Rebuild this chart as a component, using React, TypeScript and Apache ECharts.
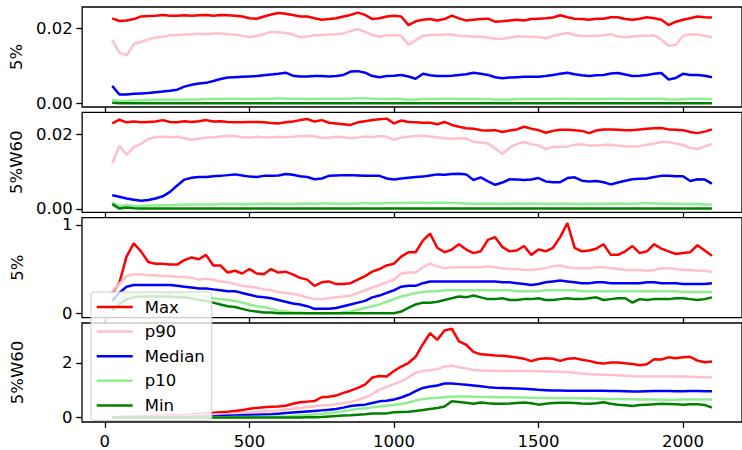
import React, { useEffect, useRef } from "react";
import * as echarts from "echarts";

const FONT = "DejaVu Sans";

const X = [25,50,75,100,125,150,175,200,225,250,275,300,325,350,375,400,425,450,475,500,525,550,575,600,625,650,675,700,725,750,775,800,825,850,875,900,925,950,975,1000,1025,1050,1075,1100,1125,1150,1175,1200,1225,1250,1275,1300,1325,1350,1375,1400,1425,1450,1475,1500,1525,1550,1575,1600,1625,1650,1675,1700,1725,1750,1775,1800,1825,1850,1875,1900,1925,1950,1975,2000,2025,2050,2075,2100];

const NAMES = ["Max", "p90", "Median", "p10", "Min"];
const COLORS = ["#ff0000", "#ffc0cb", "#0000ff", "#90ee90", "#008000"];
const Y_NAMES = ["5%", "5%W60", "5%", "5%W60"];
const X_TICKS = [0, 500, 1000, 1500, 2000];
const Y_TICKS = [[0, 0.02], [0, 0.02], [0, 1], [0, 2]];

// Panel 1: 5%
const s1Max = [0.0226,0.0219,0.0220,0.0224,0.0231,0.0232,0.0233,0.0235,0.0233,0.0233,
0.0234,0.0233,0.0234,0.0235,0.0233,0.0235,0.0234,0.0233,0.0231,0.0226,
0.0225,0.0231,0.0236,0.0240,0.0238,0.0235,0.0231,0.0231,0.0226,0.0222,
0.0224,0.0226,0.0231,0.0235,0.0241,0.0235,0.0224,0.0226,0.0231,0.0233,
0.0231,0.0208,0.0218,0.0222,0.0224,0.0220,0.0224,0.0233,0.0226,0.0220,
0.0222,0.0224,0.0225,0.0217,0.0218,0.0220,0.0222,0.0220,0.0224,0.0225,
0.0226,0.0228,0.0234,0.0229,0.0225,0.0224,0.0222,0.0225,0.0225,0.0229,
0.0229,0.0224,0.0222,0.0225,0.0229,0.0226,0.0222,0.0208,0.0217,0.0222,
0.0226,0.0231,0.0229,0.0228];
const s1P90 = [0.0169,0.0135,0.0128,0.0158,0.0164,0.0170,0.0175,0.0177,0.0181,0.0182,
0.0183,0.0184,0.0185,0.0184,0.0186,0.0186,0.0184,0.0183,0.0180,0.0176,
0.0180,0.0184,0.0190,0.0189,0.0187,0.0183,0.0176,0.0178,0.0181,0.0182,
0.0183,0.0184,0.0186,0.0192,0.0197,0.0190,0.0182,0.0177,0.0181,0.0182,
0.0180,0.0156,0.0168,0.0180,0.0182,0.0182,0.0183,0.0183,0.0180,0.0179,
0.0178,0.0177,0.0175,0.0172,0.0171,0.0175,0.0178,0.0178,0.0177,0.0176,
0.0173,0.0179,0.0184,0.0187,0.0182,0.0179,0.0179,0.0179,0.0181,0.0184,
0.0178,0.0176,0.0178,0.0179,0.0180,0.0181,0.0170,0.0153,0.0156,0.0180,
0.0184,0.0183,0.0180,0.0176];
const s1Median = [0.0047,0.0024,0.0024,0.0026,0.0027,0.0028,0.0030,0.0032,0.0034,0.0037,
0.0045,0.0050,0.0053,0.0055,0.0060,0.0065,0.0069,0.0070,0.0071,0.0072,
0.0073,0.0075,0.0077,0.0079,0.0082,0.0074,0.0072,0.0072,0.0073,0.0073,
0.0072,0.0073,0.0076,0.0085,0.0086,0.0082,0.0073,0.0070,0.0073,0.0074,
0.0076,0.0072,0.0066,0.0079,0.0075,0.0073,0.0073,0.0074,0.0076,0.0078,
0.0082,0.0079,0.0076,0.0070,0.0067,0.0069,0.0070,0.0071,0.0071,0.0071,
0.0073,0.0076,0.0079,0.0082,0.0078,0.0075,0.0073,0.0075,0.0076,0.0080,
0.0081,0.0077,0.0073,0.0074,0.0076,0.0079,0.0081,0.0064,0.0068,0.0079,
0.0076,0.0076,0.0074,0.0070];
const s1P10 = [0.0010,0.0007,0.0007,0.0008,0.0009,0.0009,0.0010,0.0010,0.0010,0.0010,
0.0011,0.0011,0.0011,0.0012,0.0012,0.0012,0.0013,0.0013,0.0012,0.0012,
0.0012,0.0013,0.0013,0.0014,0.0013,0.0013,0.0013,0.0012,0.0012,0.0013,
0.0013,0.0013,0.0013,0.0013,0.0014,0.0014,0.0013,0.0012,0.0012,0.0013,
0.0012,0.0010,0.0011,0.0012,0.0012,0.0012,0.0013,0.0013,0.0012,0.0012,
0.0012,0.0012,0.0012,0.0011,0.0011,0.0011,0.0012,0.0012,0.0012,0.0012,
0.0012,0.0012,0.0013,0.0013,0.0012,0.0012,0.0012,0.0012,0.0012,0.0013,
0.0013,0.0012,0.0012,0.0012,0.0013,0.0013,0.0013,0.0011,0.0011,0.0012,
0.0013,0.0013,0.0012,0.0012];
const s1Min = [0.0002,0.0001,0.0001,0.0001,0.0001,0.0001,0.0001,0.0001,0.0001,0.0001,
0.0001,0.0001,0.0001,0.0001,0.0001,0.0001,0.0001,0.0001,0.0001,0.0001,
0.0001,0.0001,0.0001,0.0001,0.0001,0.0001,0.0001,0.0001,0.0001,0.0001,
0.0001,0.0001,0.0001,0.0001,0.0001,0.0001,0.0001,0.0001,0.0001,0.0001,
0.0001,0.0001,0.0001,0.0001,0.0001,0.0001,0.0001,0.0001,0.0001,0.0001,
0.0001,0.0001,0.0001,0.0001,0.0001,0.0001,0.0001,0.0001,0.0001,0.0001,
0.0001,0.0001,0.0001,0.0001,0.0001,0.0001,0.0001,0.0001,0.0001,0.0001,
0.0001,0.0001,0.0001,0.0001,0.0001,0.0001,0.0001,0.0001,0.0001,0.0001,
0.0001,0.0001,0.0001,0.0001];

// Panel 2: 5%W60
const s2Max = [0.0230,0.0240,0.0233,0.0235,0.0233,0.0234,0.0235,0.0239,0.0234,0.0233,
0.0236,0.0234,0.0236,0.0239,0.0235,0.0236,0.0234,0.0233,0.0233,0.0234,
0.0234,0.0233,0.0231,0.0230,0.0233,0.0235,0.0239,0.0242,0.0235,0.0239,
0.0232,0.0230,0.0228,0.0226,0.0233,0.0236,0.0239,0.0241,0.0243,0.0230,
0.0238,0.0234,0.0233,0.0232,0.0232,0.0228,0.0234,0.0226,0.0221,0.0217,
0.0216,0.0212,0.0211,0.0212,0.0207,0.0211,0.0214,0.0221,0.0216,0.0212,
0.0205,0.0210,0.0213,0.0213,0.0212,0.0210,0.0204,0.0211,0.0214,0.0214,
0.0213,0.0212,0.0212,0.0214,0.0216,0.0217,0.0218,0.0214,0.0213,0.0212,
0.0207,0.0204,0.0208,0.0214];
const s2P90 = [0.0122,0.0170,0.0146,0.0167,0.0175,0.0188,0.0193,0.0194,0.0193,0.0194,
0.0190,0.0186,0.0189,0.0192,0.0193,0.0195,0.0197,0.0196,0.0193,0.0192,
0.0194,0.0193,0.0192,0.0194,0.0193,0.0194,0.0196,0.0197,0.0195,0.0191,
0.0192,0.0194,0.0193,0.0190,0.0192,0.0195,0.0193,0.0196,0.0194,0.0186,
0.0192,0.0194,0.0196,0.0197,0.0195,0.0193,0.0190,0.0189,0.0191,0.0189,
0.0181,0.0179,0.0176,0.0163,0.0148,0.0165,0.0175,0.0180,0.0174,0.0171,
0.0161,0.0167,0.0167,0.0167,0.0173,0.0174,0.0171,0.0171,0.0172,0.0173,
0.0170,0.0169,0.0168,0.0169,0.0173,0.0176,0.0180,0.0180,0.0176,0.0172,
0.0164,0.0161,0.0168,0.0175];
const s2Median = [0.0037,0.0033,0.0028,0.0025,0.0022,0.0024,0.0028,0.0034,0.0046,0.0063,
0.0079,0.0084,0.0086,0.0086,0.0088,0.0089,0.0091,0.0093,0.0090,0.0087,
0.0086,0.0089,0.0089,0.0090,0.0094,0.0092,0.0088,0.0086,0.0080,0.0082,
0.0089,0.0090,0.0091,0.0091,0.0090,0.0089,0.0089,0.0089,0.0082,0.0079,
0.0082,0.0084,0.0086,0.0087,0.0090,0.0093,0.0092,0.0094,0.0095,0.0093,
0.0078,0.0085,0.0074,0.0065,0.0071,0.0080,0.0079,0.0078,0.0079,0.0083,
0.0074,0.0072,0.0072,0.0083,0.0085,0.0076,0.0074,0.0075,0.0072,0.0066,
0.0071,0.0076,0.0080,0.0081,0.0082,0.0086,0.0089,0.0089,0.0088,0.0088,
0.0075,0.0080,0.0079,0.0068];
const s2P10 = [0.0017,0.0008,0.0011,0.0008,0.0008,0.0009,0.0009,0.0010,0.0010,0.0011,
0.0011,0.0012,0.0012,0.0012,0.0012,0.0013,0.0013,0.0013,0.0012,0.0013,
0.0013,0.0014,0.0014,0.0013,0.0013,0.0013,0.0014,0.0015,0.0014,0.0015,
0.0015,0.0014,0.0014,0.0014,0.0015,0.0016,0.0015,0.0015,0.0016,0.0016,
0.0016,0.0017,0.0017,0.0017,0.0016,0.0017,0.0017,0.0016,0.0016,0.0015,
0.0014,0.0014,0.0015,0.0014,0.0013,0.0014,0.0015,0.0014,0.0015,0.0014,
0.0013,0.0014,0.0014,0.0014,0.0013,0.0013,0.0014,0.0013,0.0014,0.0014,
0.0015,0.0014,0.0014,0.0015,0.0016,0.0015,0.0015,0.0014,0.0014,0.0013,
0.0013,0.0013,0.0012,0.0012];
const s2Min = [0.0013,0.0001,0.0004,0.0002,0.0001,0.0001,0.0001,0.0001,0.0001,0.0001,
0.0001,0.0001,0.0001,0.0001,0.0001,0.0001,0.0001,0.0001,0.0001,0.0001,
0.0001,0.0001,0.0001,0.0001,0.0001,0.0001,0.0001,0.0001,0.0001,0.0001,
0.0001,0.0001,0.0001,0.0001,0.0001,0.0001,0.0001,0.0001,0.0001,0.0001,
0.0001,0.0001,0.0001,0.0001,0.0001,0.0001,0.0001,0.0001,0.0001,0.0001,
0.0001,0.0001,0.0001,0.0001,0.0001,0.0001,0.0001,0.0001,0.0001,0.0001,
0.0001,0.0001,0.0001,0.0001,0.0001,0.0001,0.0001,0.0001,0.0001,0.0001,
0.0001,0.0001,0.0001,0.0001,0.0001,0.0001,0.0001,0.0001,0.0001,0.0001,
0.0001,0.0001,0.0001,0.0001];

// Panel 3: 5%
const s3Max = [0.23,0.34,0.64,0.79,0.70,0.58,0.56,0.56,0.55,0.55,
0.60,0.63,0.61,0.66,0.54,0.54,0.46,0.48,0.45,0.50,
0.45,0.44,0.50,0.46,0.47,0.44,0.40,0.38,0.31,0.35,
0.36,0.33,0.33,0.34,0.38,0.42,0.47,0.50,0.54,0.56,
0.64,0.69,0.69,0.82,0.90,0.74,0.69,0.72,0.78,0.72,
0.68,0.70,0.83,0.86,0.75,0.70,0.71,0.76,0.66,0.72,
0.70,0.74,0.86,1.02,0.74,0.70,0.71,0.73,0.78,0.66,
0.66,0.70,0.76,0.68,0.70,0.78,0.73,0.70,0.67,0.68,
0.69,0.77,0.71,0.65];
const s3P90 = [0.25,0.33,0.42,0.44,0.44,0.43,0.43,0.42,0.42,0.41,
0.41,0.40,0.38,0.39,0.38,0.36,0.35,0.33,0.31,0.30,
0.29,0.27,0.26,0.24,0.23,0.22,0.20,0.18,0.16,0.16,
0.17,0.18,0.19,0.20,0.23,0.26,0.29,0.32,0.35,0.38,
0.45,0.46,0.46,0.52,0.56,0.53,0.51,0.52,0.52,0.52,
0.52,0.52,0.53,0.52,0.51,0.50,0.50,0.49,0.49,0.50,
0.51,0.53,0.54,0.52,0.51,0.51,0.51,0.52,0.52,0.51,
0.50,0.49,0.49,0.49,0.48,0.49,0.51,0.51,0.50,0.49,
0.49,0.48,0.48,0.47];
const s3Median = [0.14,0.23,0.30,0.32,0.32,0.32,0.32,0.32,0.32,0.31,
0.30,0.29,0.28,0.28,0.27,0.26,0.25,0.25,0.23,0.21,
0.19,0.18,0.17,0.15,0.13,0.11,0.10,0.08,0.05,0.05,
0.05,0.06,0.08,0.10,0.12,0.14,0.18,0.20,0.23,0.26,
0.30,0.31,0.31,0.34,0.36,0.36,0.36,0.36,0.36,0.36,
0.36,0.36,0.36,0.36,0.35,0.35,0.34,0.33,0.32,0.33,
0.35,0.36,0.37,0.36,0.35,0.34,0.34,0.35,0.35,0.34,
0.34,0.34,0.34,0.34,0.35,0.35,0.34,0.34,0.34,0.33,
0.33,0.33,0.33,0.34];
const s3P10 = [0.04,0.15,0.21,0.22,0.22,0.22,0.22,0.22,0.22,0.22,
0.21,0.21,0.20,0.19,0.17,0.16,0.15,0.14,0.12,0.10,
0.08,0.07,0.05,0.03,0.02,0.01,0.01,0.00,0.00,0.00,
0.00,0.00,0.01,0.02,0.04,0.06,0.08,0.10,0.13,0.16,
0.19,0.21,0.23,0.24,0.25,0.25,0.26,0.26,0.26,0.26,
0.26,0.26,0.26,0.26,0.26,0.26,0.25,0.25,0.25,0.25,
0.26,0.26,0.26,0.26,0.26,0.25,0.25,0.25,0.25,0.25,
0.25,0.25,0.25,0.25,0.25,0.25,0.25,0.25,0.25,0.24,
0.24,0.24,0.24,0.24];
const s3Min = [0.03,0.10,0.16,0.18,0.19,0.19,0.19,0.19,0.19,0.18,
0.18,0.17,0.15,0.14,0.12,0.10,0.08,0.07,0.05,0.03,
0.02,0.01,0.01,0.00,0.00,0.00,0.00,0.00,0.00,0.00,
0.00,0.00,0.00,0.00,0.00,0.00,0.00,0.00,0.00,0.00,
0.02,0.06,0.10,0.12,0.12,0.13,0.15,0.17,0.19,0.18,
0.20,0.18,0.16,0.16,0.17,0.15,0.15,0.16,0.16,0.17,
0.15,0.15,0.16,0.17,0.16,0.16,0.17,0.18,0.15,0.16,
0.17,0.17,0.12,0.16,0.15,0.16,0.16,0.16,0.17,0.17,
0.16,0.15,0.16,0.18];

// Panel 4: 5%W60
const s4Max = [0.01,0.02,0.03,0.03,0.04,0.05,0.06,0.06,0.07,0.08,
0.09,0.11,0.13,0.15,0.17,0.19,0.21,0.24,0.27,0.32,
0.35,0.37,0.39,0.40,0.43,0.50,0.56,0.58,0.60,0.74,
0.76,0.80,0.90,0.98,1.08,1.20,1.46,1.52,1.50,1.70,
1.86,1.99,2.22,2.68,3.08,2.84,3.18,3.25,2.78,2.66,
2.40,2.31,2.29,2.27,2.26,2.23,2.19,2.15,2.06,2.14,
2.17,2.15,2.07,2.15,2.17,2.11,2.07,2.00,1.97,2.01,
2.01,1.98,1.96,1.91,1.95,2.13,2.12,2.20,2.17,2.20,
2.22,2.08,2.02,2.05];
const s4P90 = [0.00,0.01,0.01,0.02,0.02,0.03,0.03,0.04,0.04,0.05,
0.06,0.07,0.08,0.09,0.10,0.11,0.12,0.14,0.16,0.18,
0.20,0.22,0.24,0.26,0.29,0.32,0.35,0.38,0.41,0.44,
0.46,0.49,0.53,0.57,0.64,0.73,0.86,1.02,1.12,1.22,
1.33,1.46,1.63,1.70,1.73,1.77,1.86,1.90,1.84,1.79,
1.74,1.72,1.71,1.71,1.70,1.70,1.70,1.70,1.70,1.69,
1.68,1.68,1.67,1.66,1.64,1.61,1.58,1.57,1.56,1.55,
1.54,1.53,1.51,1.50,1.50,1.50,1.50,1.50,1.50,1.50,
1.49,1.48,1.47,1.46];
const s4Median = [0.00,0.00,0.00,0.01,0.01,0.01,0.01,0.01,0.02,0.02,
0.02,0.03,0.03,0.04,0.04,0.05,0.06,0.07,0.08,0.09,
0.10,0.11,0.12,0.14,0.16,0.18,0.20,0.22,0.24,0.26,
0.28,0.31,0.36,0.42,0.45,0.47,0.53,0.59,0.61,0.66,
0.73,0.83,0.96,1.08,1.13,1.17,1.24,1.24,1.22,1.20,
1.17,1.14,1.11,1.09,1.08,1.07,1.06,1.05,1.03,1.01,
1.00,0.99,0.99,0.98,0.98,0.98,0.98,0.98,0.98,0.97,
0.97,0.96,0.95,0.95,0.96,0.97,0.97,0.97,0.96,0.96,
0.97,0.97,0.96,0.96];
const s4P10 = [0.00,0.00,0.00,0.00,0.00,0.00,0.00,0.00,0.00,0.00,
0.00,0.00,0.01,0.01,0.01,0.01,0.01,0.02,0.02,0.02,
0.03,0.03,0.03,0.04,0.04,0.05,0.07,0.09,0.11,0.13,
0.16,0.19,0.23,0.27,0.31,0.34,0.37,0.40,0.43,0.46,
0.49,0.55,0.62,0.67,0.70,0.72,0.74,0.76,0.77,0.77,
0.76,0.75,0.75,0.74,0.74,0.74,0.73,0.73,0.72,0.71,
0.71,0.71,0.70,0.70,0.70,0.70,0.69,0.69,0.68,0.68,
0.68,0.67,0.67,0.66,0.66,0.66,0.65,0.65,0.65,0.66,
0.66,0.66,0.66,0.66];
const s4Min = [0.00,0.00,0.00,0.00,0.00,0.00,0.00,0.00,0.00,0.00,
0.00,0.00,0.00,0.00,0.00,0.00,0.00,0.00,0.00,0.00,
0.00,0.00,0.00,0.00,0.00,0.00,0.00,0.01,0.01,0.02,
0.04,0.05,0.07,0.08,0.10,0.12,0.15,0.15,0.15,0.19,
0.20,0.21,0.24,0.27,0.31,0.35,0.40,0.59,0.57,0.54,
0.50,0.55,0.52,0.50,0.50,0.51,0.53,0.55,0.52,0.47,
0.50,0.53,0.54,0.54,0.53,0.51,0.50,0.52,0.56,0.50,
0.47,0.45,0.42,0.46,0.47,0.48,0.50,0.49,0.48,0.47,
0.48,0.48,0.46,0.36];

const PANELS = [
  [s1Max, s1P90, s1Median, s1P10, s1Min],
  [s2Max, s2P90, s2Median, s2P10, s2Min],
  [s3Max, s3P90, s3Median, s3P10, s3Min],
  [s4Max, s4P90, s4Median, s4P10, s4Min],
];

const GRID_TOPS = [7, 112.3, 217.7, 323];
const Y_LIMITS = [[-0.0009, 0.0256], [-0.0009, 0.026], [-0.05, 1.08], [-0.165, 3.455]];

function buildOption() {
  const tickLine = { color: "#000", width: 1.3 };
  const labelStyle = { fontFamily: FONT, fontSize: 16.5, color: "#000" };
  const grid = GRID_TOPS.map((top) => ({
    left: 82, top, width: 663, height: 100,
    show: true, borderColor: "#000", borderWidth: 1.3, backgroundColor: "transparent",
  }));
  const xAxis = GRID_TOPS.map((_, i) => ({
    type: "value", gridIndex: i, min: -79, max: 2204, position: "bottom",
    axisLine: { show: false, onZero: false },
    splitLine: { show: false },
    axisTick: { show: true, length: 5.8, lineStyle: tickLine, customValues: X_TICKS },
    axisLabel: {
      show: i === 3, customValues: X_TICKS, margin: 11, ...labelStyle,
      formatter: (v: number) => String(v),
    },
  }));
  const yAxis = GRID_TOPS.map((_, i) => ({
    type: "value", gridIndex: i, min: Y_LIMITS[i][0], max: Y_LIMITS[i][1], position: "left",
    name: Y_NAMES[i], nameLocation: "middle", nameRotate: 90, nameGap: 56.5,
    nameTextStyle: { ...labelStyle },
    axisLine: { show: false, onZero: false },
    splitLine: { show: false },
    axisTick: { show: true, length: 5.8, lineStyle: tickLine, customValues: Y_TICKS[i] },
    axisLabel: {
      show: true, customValues: Y_TICKS[i], margin: 9.5, lineHeight: 14, ...labelStyle,
      formatter: (v: number) => (i < 2 ? v.toFixed(2) : String(Math.round(v))),
    },
  }));
  const series: any[] = [];
  PANELS.forEach((panel, g) => {
    panel.forEach((vals, k) => {
      series.push({
        name: NAMES[k], type: "line", xAxisIndex: g, yAxisIndex: g,
        data: X.map((x, j) => [x, vals[j]]),
        symbol: "none", showSymbol: false, silent: true,
        lineStyle: { color: COLORS[k], width: 2.5 },
        itemStyle: { color: COLORS[k] },
      });
    });
  });
  return {
    animation: false,
    textStyle: { fontFamily: FONT },
    grid, xAxis, yAxis, series,
    legend: {
      data: NAMES, orient: "vertical", left: 91, top: 292,
      icon: "rect", itemWidth: 36, itemHeight: 2.5, itemGap: 6.6,
      padding: [6, 7, 6, 5.7], selectedMode: false,
      backgroundColor: "rgba(255,255,255,0.8)", borderColor: "#cccccc", borderWidth: 1, borderRadius: 3,
      textStyle: { fontFamily: FONT, fontSize: 16.5, color: "#000", lineHeight: 18, padding: [0, 0, 0, 7] },
    },
  };
}

export default function App() {
  const ref = useRef<HTMLDivElement>(null);
  useEffect(() => {
    document.body.style.margin = "0";
    const chart = echarts.init(ref.current!, null, { renderer: "svg" });
    chart.setOption(buildOption() as any);
    return () => chart.dispose();
  }, []);
  return <div ref={ref} style={{ width: 742, height: 450 }} />;
}
